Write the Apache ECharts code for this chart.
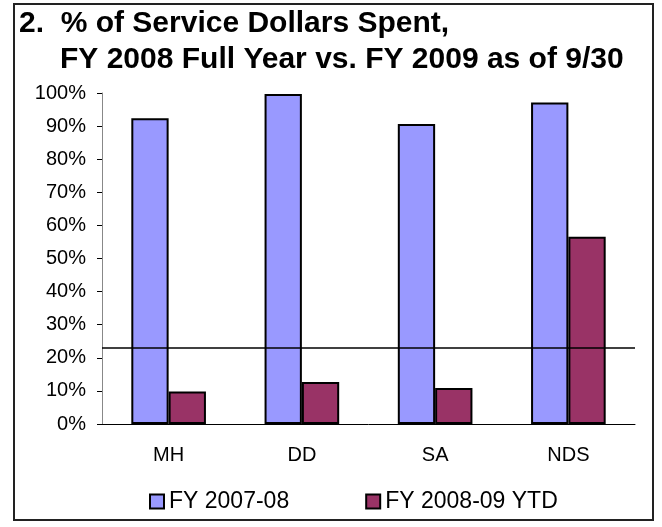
<!DOCTYPE html>
<html><head><meta charset="utf-8">
<script src="https://cdn.jsdelivr.net/npm/echarts@6/dist/echarts.min.js"></script>
<style>html,body{margin:0;padding:0;background:#fff}#c{width:662px;height:527px}</style>
</head><body><div id="c"></div>
<script>
const categories = ['MH', 'DD', 'SA', 'NDS'];
const fy0708 = [0.924, 0.997, 0.906, 0.971];
const fy0809 = [0.098, 0.127, 0.109, 0.566];
const threshold = 0.23;
const yTicks = [0, 0.1, 0.2, 0.3, 0.4, 0.5, 0.6, 0.7, 0.8, 0.9, 1.0];

const chart = echarts.init(document.getElementById('c'));
const font = 'Liberation Sans, Arial, sans-serif';
chart.setOption({
  animation: false,
  backgroundColor: '#fff',
  graphic: [{
    type: 'rect', shape: {x: 14, y: 4, width: 639, height: 516},
    style: {fill: 'none', stroke: '#222', lineWidth: 2}, silent: true
  }],
  title: [
    {text: '2.  % of Service Dollars Spent,', left: 19, top: 9, padding: 0,
     textStyle: {fontFamily: font, fontSize: 30, fontWeight: 'bold', color: '#000'}},
    {text: 'FY 2008 Full Year vs. FY 2009 as of 9/30', left: 60, top: 45, padding: 0,
     textStyle: {fontFamily: font, fontSize: 30, fontWeight: 'bold', color: '#000'}}
  ],
  legend: {
    top: 490, left: 149, padding: 0, itemGap: 76, itemWidth: 14, itemHeight: 14,
    icon: 'rect',
    textStyle: {fontFamily: font, fontSize: 23, color: '#000'},
    data: [
      {name: 'FY 2007-08', itemStyle: {borderColor: '#000', borderWidth: 2}},
      {name: 'FY 2008-09 YTD', itemStyle: {borderColor: '#000', borderWidth: 2}}
    ]
  },
  grid: {left: 102, right: 27, top: 93, bottom: 103},
  xAxis: {
    type: 'category', data: categories,
    axisLine: {lineStyle: {color: '#000', width: 1}},
    axisTick: {show: false},
    axisLabel: {fontFamily: font, fontSize: 20, color: '#000', margin: 21}
  },
  yAxis: {
    type: 'value', min: 0, max: 1, interval: 0.1,
    axisLine: {show: true, lineStyle: {color: '#888', width: 1}},
    axisTick: {show: true, length: 5, lineStyle: {color: '#000'}},
    splitLine: {show: false},
    axisLabel: {fontFamily: font, fontSize: 20, color: '#000', margin: 16,
      formatter: v => Math.round(v * 100) + '%'}
  },
  series: [
    {name: 'FY 2007-08', type: 'bar', data: fy0708, barWidth: '28%', barGap: '0%',
     itemStyle: {color: '#9999FF', borderColor: '#000', borderWidth: 2},
     markLine: {silent: true, symbol: 'none', label: {show: false},
       lineStyle: {color: '#000', width: 1.5, type: 'solid'},
       data: [{yAxis: threshold}]}},
    {name: 'FY 2008-09 YTD', type: 'bar', data: fy0809, barWidth: '28%',
     itemStyle: {color: '#993366', borderColor: '#000', borderWidth: 2}}
  ]
});
</script></body></html>
